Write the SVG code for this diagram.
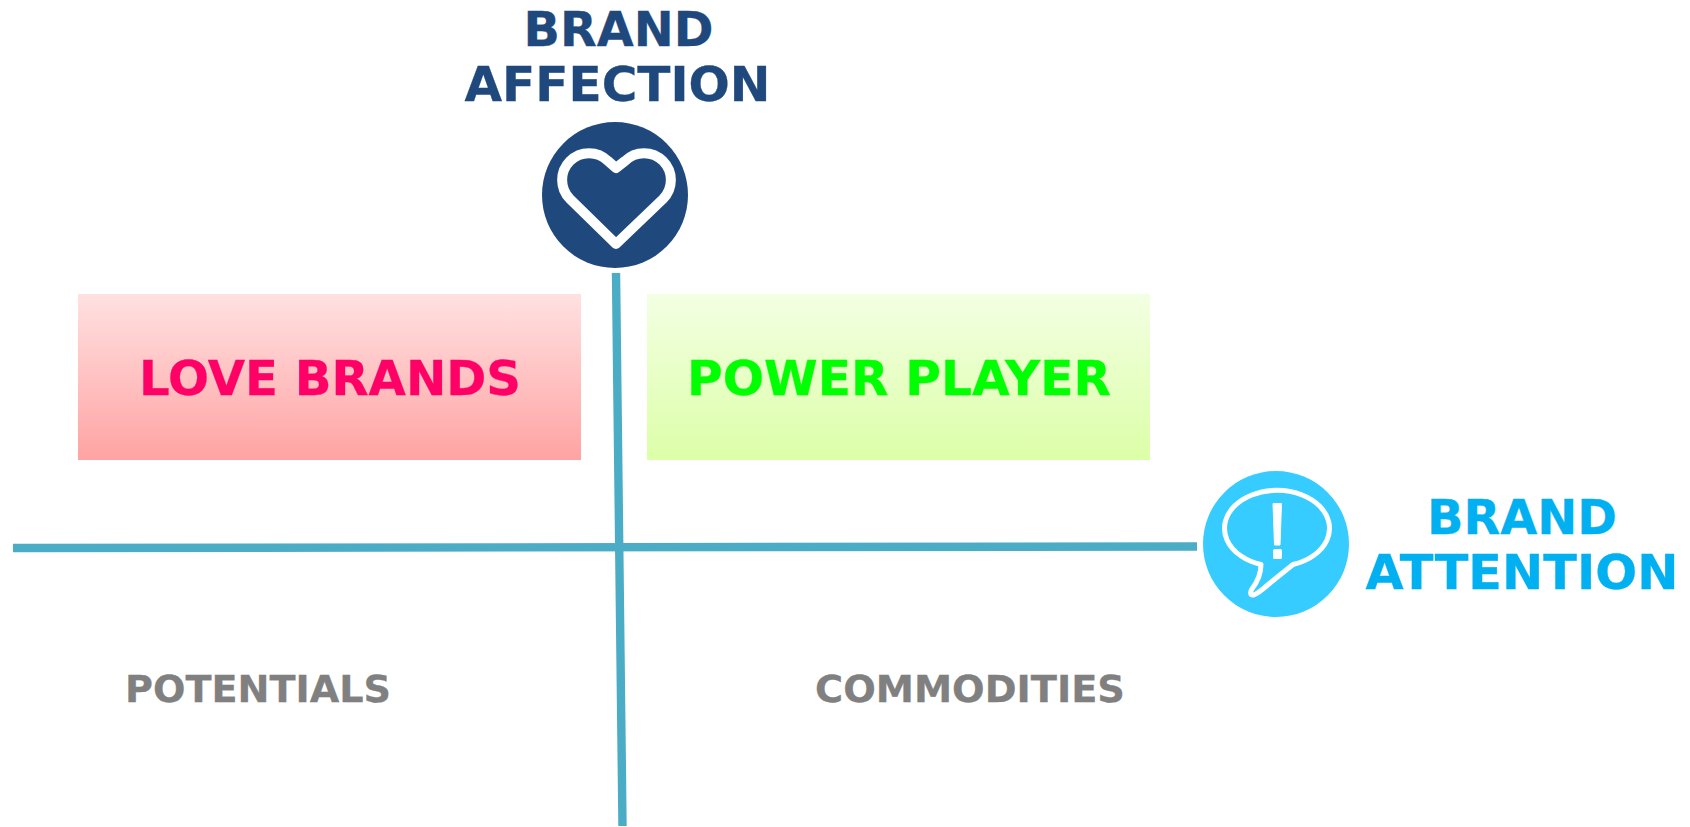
<svg xmlns="http://www.w3.org/2000/svg" width="1690" height="827" viewBox="0 0 1690 827">
<style>
text{font-family:"DejaVu Sans",Verdana,sans-serif;font-weight:700;text-anchor:middle;stroke-width:.3}
.t{font-size:48px}.q{font-size:38px;fill:#808080;stroke:#808080}
.navy{fill:#1f497d;stroke:#1f497d}.sky{fill:#00b0f0;stroke:#00b0f0}
.ax{stroke:#4bacc6;stroke-width:8.4;fill:none}
</style>
<defs>
<linearGradient id="r" x1="0" y1="0" x2="0" y2="1"><stop offset="0" stop-color="#ffe1e1"/><stop offset="1" stop-color="#ffa3a3"/></linearGradient>
<linearGradient id="g" x1="0" y1="0" x2="0" y2="1"><stop offset="0" stop-color="#f3ffe3"/><stop offset="1" stop-color="#dcffa8"/></linearGradient>
</defs>
<rect width="1690" height="827" fill="#fff"/>
<g id="connectors">
<path class="ax" d="M616 273L622.500 826"/>
<path class="ax" d="M13 548L1197 546.500"/>
</g>
<g id="love-brands"><rect x="78" y="294" width="503" height="166" fill="url(#r)"/><text x="330" y="395" class="t" style="fill:#ff0066;stroke:#ff0066" textLength="382" lengthAdjust="spacingAndGlyphs">LOVE BRANDS</text></g>
<g id="power-player"><rect x="647" y="294" width="503" height="166" fill="url(#g)"/><text x="899" y="395" class="t" style="fill:#00ff00;stroke:#00ff00" textLength="424" lengthAdjust="spacingAndGlyphs">POWER PLAYER</text></g>
<g id="brand-affection">
<text x="618.500" y="45.500" class="t navy" textLength="190" lengthAdjust="spacingAndGlyphs">BRAND</text><text x="617.500" y="100.500" class="t navy" textLength="306" lengthAdjust="spacingAndGlyphs">AFFECTION</text>
<circle cx="615" cy="195" r="73" fill="#1f497d"/>
<path d="M616 168L608 161A26.870 26.870 0 0 0 570 199L616 244L663 199A26.870 26.870 0 0 0 625 161Z" fill="none" stroke="#fff" stroke-width="10" stroke-linejoin="round"/>
</g>
<g id="brand-attention">
<circle cx="1276" cy="544" r="73" fill="#36ccff"/>
<path d="M1261 564.500A52.500 38 0 1 1 1293 564.500L1270 583C1262 590 1256 595 1253 595C1250 595 1250 592 1252 589C1258 581 1261 573 1261 564.500Z" fill="#36ccff" stroke="#fff" stroke-width="5" stroke-linejoin="round"/>
<path d="M1273 503.500H1281.500L1280 545H1274.500Z" fill="#fff" stroke="#fff" stroke-width="1" stroke-linejoin="round"/>
<rect x="1273" y="549" width="9" height="10" rx="1.500" fill="#fff"/>
<text x="1522" y="533.500" class="t sky" textLength="190" lengthAdjust="spacingAndGlyphs">BRAND</text><text x="1522" y="588.500" class="t sky" textLength="313" lengthAdjust="spacingAndGlyphs">ATTENTION</text>
</g>
<g id="potentials"><text x="258" y="702" class="q" textLength="266" lengthAdjust="spacingAndGlyphs">POTENTIALS</text></g>
<g id="commodities"><text x="970" y="702" class="q" textLength="310" lengthAdjust="spacingAndGlyphs">COMMODITIES</text></g>
</svg>
